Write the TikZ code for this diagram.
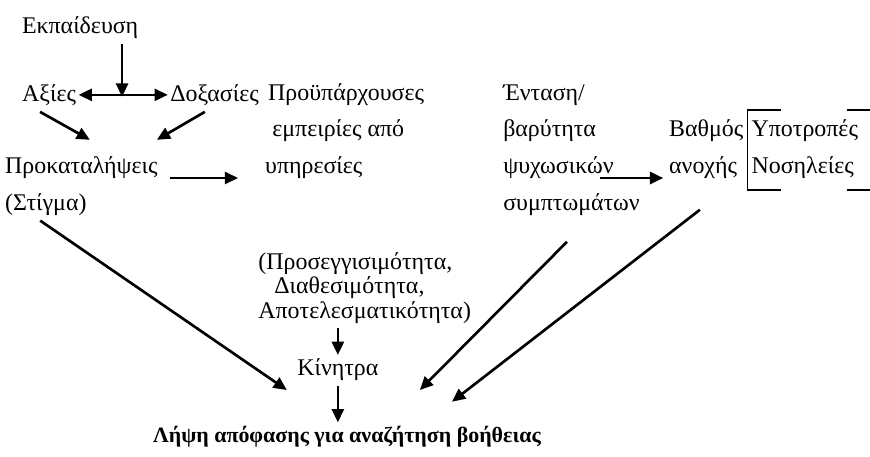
\documentclass[tikz,border=0pt]{standalone}
\usepackage{fontspec}
\setmainfont{Liberation Serif}
\usepackage{tikz}
\usetikzlibrary{arrows.meta,positioning}

\tikzset{
  lbl/.style={anchor=west,inner sep=0pt,font=\fontsize{18}{21}\selectfont},
  arr/.style={-{Triangle[length=10pt,width=9pt]},line width=2pt},
  darr/.style={{Triangle[length=10pt,width=9pt]}-{Triangle[length=10pt,width=9pt]},line width=2pt},
}

\begin{document}
\begin{tikzpicture}
  \useasboundingbox (0,0) rectangle (23.02,12.09);

  % Αριστερή στήλη: εκπαίδευση, αξίες, δοξασίες.
  \node[lbl,anchor=center] (edu) at (2.12,11.35) {Εκπαίδευση};
  \node[lbl] (axies) at (0.58,9.58) {Αξίες};
  \node[lbl] (doxes) at (4.50,9.58) {Δοξασίες};
  \node[lbl] (prok) at (0.13,7.65) {Προκαταλήψεις};
  \node[lbl] (stigma) at (0.13,6.67) {(Στίγμα)};

  % Προϋπάρχουσες εμπειρίες.
  \node[lbl] (emp1) at (7.09,9.58) {Προϋπάρχουσες};
  \node[lbl] (emp2) at (7.20,8.63) {εμπειρίες από};
  \node[lbl] (emp3) at (7.01,7.65) {υπηρεσίες};

  % Συμπτώματα και βαθμός ανοχής.
  \node[lbl] (ent1) at (13.31,9.58) {Ένταση/};
  \node[lbl] (ent2) at (13.31,8.63) {βαρύτητα};
  \node[lbl] (ent3) at (13.31,7.65) {ψυχωσικών};
  \node[lbl] (ent4) at (13.31,6.67) {συμπτωμάτων};
  \node[lbl] (anoxi1) at (17.70,8.63) {Βαθμός};
  \node[lbl] (anoxi2) at (17.70,7.65) {ανοχής};
  \node[lbl] (ypotr) at (19.88,8.63) {Υποτροπές};
  \node[lbl] (nosil) at (19.88,7.65) {Νοσηλείες};
  \draw[line width=1pt] (20.67,9.18) -- (19.77,9.18) -- (19.77,7.06) -- (20.67,7.06);
  \draw[line width=1pt] (22.41,9.18) -- (23.02,9.18);
  \draw[line width=1pt] (22.41,7.06) -- (23.02,7.06);

  % Υπηρεσίες, κίνητρα, απόφαση.
  \node[lbl,align=left,font=\fontsize{18}{18.5}\selectfont] (ypir) at (6.83,4.47)
    {(Προσεγγισιμότητα,\\\hspace{12pt}Διαθεσιμότητα,\\Αποτελεσματικότητα)};
  \node[lbl,anchor=center] (kin) at (8.94,2.30) {Κίνητρα};
  \node[lbl,anchor=center,font=\fontsize{16.5}{20}\selectfont\bfseries] (apof) at (9.18,0.53)
    {Λήψη απόφασης για αναζήτηση βοήθειας};

  % Σημεία άφιξης των βελών.
  \coordinate (cross) at (3.23,9.53);
  \coordinate (prokIn1) at (2.38,8.39);
  \coordinate (prokIn2) at (4.15,8.39);
  \coordinate (stigEnd) at (7.59,1.77);
  \coordinate (sympEnd) at (11.11,1.77);
  \coordinate (anoxEnd) at (11.96,1.46);

  \draw[arr] (edu.south -| cross) ++(0,-0.12) -- (cross);
  \draw[darr] (axies.east) ++(0.06,0) -- ([xshift=-0.06cm]doxes.west);
  \draw[arr] (1.06,9.13) -- (prokIn1);
  \draw[arr] (5.42,9.13) -- (prokIn2);
  \draw[arr] (4.50,7.38) -- (6.30,7.38);
  \draw[arr] ([xshift=-0.15cm,yshift=-0.12cm]stigma.south) -- (stigEnd);
  \draw[arr] ([yshift=-0.12cm]ypir.south -| kin) -- ([yshift=0.1cm]kin.north);
  \draw[arr] ([yshift=-0.12cm]kin.south) -- ([yshift=0.1cm]kin.south |- apof.north);
  \draw[arr] (15.00,5.69) -- (sympEnd);
  \draw[arr] (15.88,7.38) -- (17.55,7.38);
  \draw[arr] (18.52,6.54) -- (anoxEnd);
\end{tikzpicture}
\end{document}
